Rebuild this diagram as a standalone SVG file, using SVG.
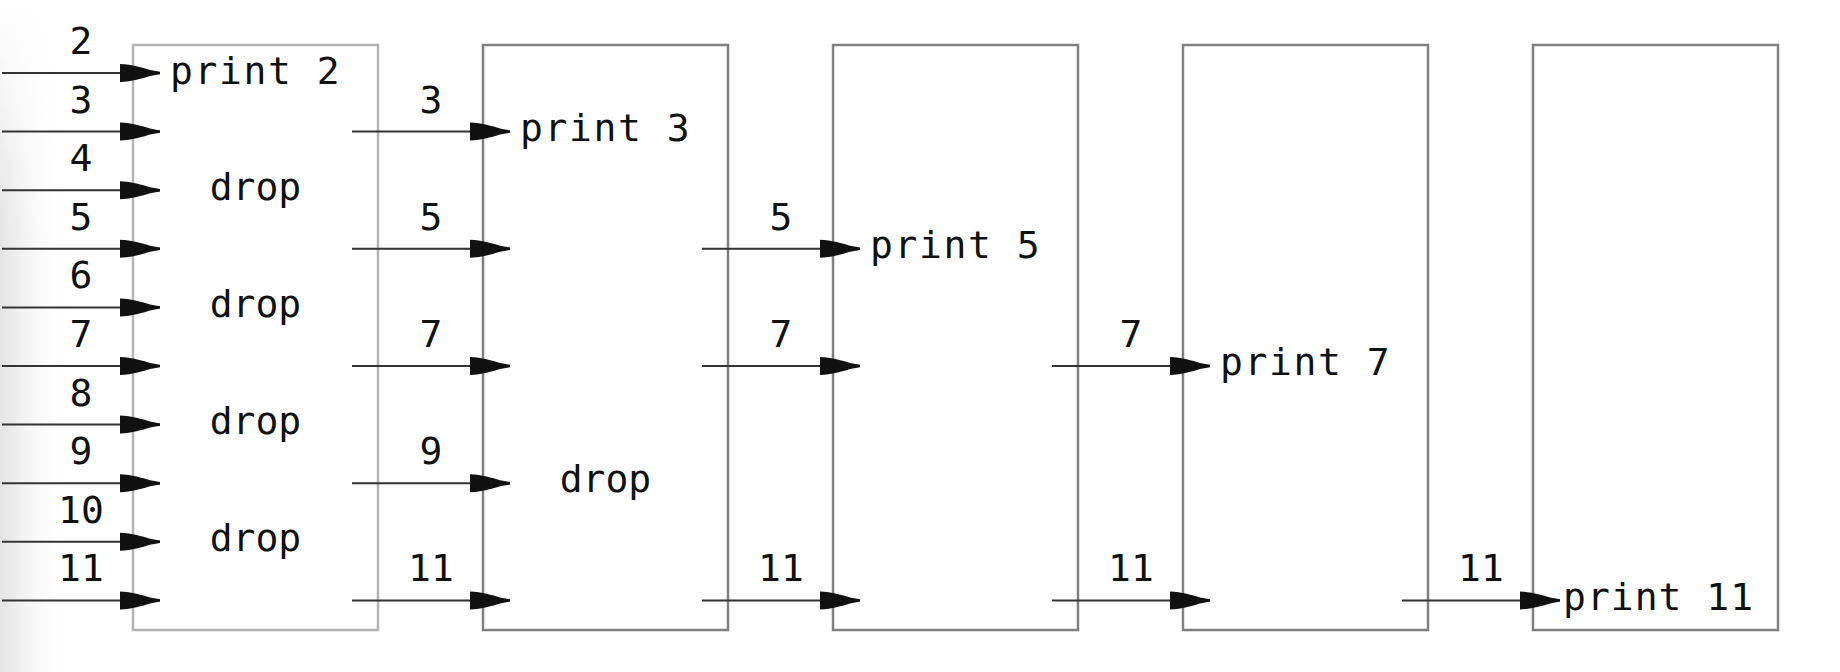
<svg xmlns="http://www.w3.org/2000/svg" width="1840" height="672" viewBox="0 0 1840 672">
  <style>
    .box { fill: none; stroke: #808080; stroke-width: 2.5; }
    .box1 { fill: none; stroke: #b4b4b4; stroke-width: 2.5; }
    .conn { stroke: #333333; stroke-width: 2; fill: none; marker-end: url(#arrow); }
    .lbl { font-family: "DejaVu Sans Mono", "Liberation Mono", monospace; font-size: 38px; fill: #111111; text-anchor: middle; }
    .txt { font-family: "DejaVu Sans Mono", "Liberation Mono", monospace; font-size: 38px; fill: #111111; }
    .prt { letter-spacing: 1.6px; }
    .mid { text-anchor: middle; }
  </style>
  <defs>
    <marker id="arrow" markerUnits="userSpaceOnUse" markerWidth="42" markerHeight="22" viewBox="0 -11 42 22" refX="40" refY="0" orient="auto">
      <path d="M0,-9 L0,9 C12,8.5 22,5.5 30,3 L40,1.2 L40,-1.2 L30,-3 C22,-5.5 12,-8.5 0,-9 Z" fill="#111111"/>
    </marker>
    <linearGradient id="shadeH" x1="0" y1="0" x2="1" y2="0">
      <stop offset="0" stop-color="#e2e2e2" stop-opacity="1"/>
      <stop offset="1" stop-color="#ffffff" stop-opacity="0"/>
    </linearGradient>
    <linearGradient id="fadeV" x1="0" y1="0" x2="0" y2="1">
      <stop offset="0" stop-color="#000000"/>
      <stop offset="0.35" stop-color="#ffffff"/>
      <stop offset="1" stop-color="#ffffff"/>
    </linearGradient>
    <mask id="vmask" maskUnits="userSpaceOnUse" x="0" y="0" width="80" height="672">
      <rect x="0" y="0" width="80" height="672" fill="url(#fadeV)"/>
    </mask>
  </defs>
  <rect x="0" y="0" width="1840" height="672" fill="#ffffff"/>
  <rect x="0" y="0" width="70" height="672" fill="url(#shadeH)" mask="url(#vmask)"/>

  <g id="sieve2">
    <rect class="box1" x="133" y="45" width="245" height="585"/>
    <text class="txt prt" x="170" y="84">print 2</text>
    <text class="txt mid" x="255.5" y="200">drop</text>
    <text class="txt mid" x="255.5" y="317">drop</text>
    <text class="txt mid" x="255.5" y="434">drop</text>
    <text class="txt mid" x="255.5" y="551">drop</text>
  </g>
  <g id="sieve3">
    <rect class="box" x="483" y="45" width="245" height="585"/>
    <text class="txt prt" x="520" y="141">print 3</text>
    <text class="txt mid" x="605.5" y="492">drop</text>
  </g>
  <g id="sieve5">
    <rect class="box" x="833" y="45" width="245" height="585"/>
    <text class="txt prt" x="870" y="258">print 5</text>
  </g>
  <g id="sieve7">
    <rect class="box" x="1183" y="45" width="245" height="585"/>
    <text class="txt prt" x="1220" y="375">print 7</text>
  </g>
  <g id="sieve11">
    <rect class="box" x="1533" y="45" width="245" height="585"/>
    <text class="txt" x="1563" y="610" style="letter-spacing:1px">print 11</text>
  </g>

  <g id="connectors">
    <line class="conn" x1="2" y1="73" x2="160" y2="73"/>
    <line class="conn" x1="2" y1="131.6" x2="160" y2="131.6"/>
    <line class="conn" x1="2" y1="190.2" x2="160" y2="190.2"/>
    <line class="conn" x1="2" y1="248.8" x2="160" y2="248.8"/>
    <line class="conn" x1="2" y1="307.4" x2="160" y2="307.4"/>
    <line class="conn" x1="2" y1="366" x2="160" y2="366"/>
    <line class="conn" x1="2" y1="424.6" x2="160" y2="424.6"/>
    <line class="conn" x1="2" y1="483.2" x2="160" y2="483.2"/>
    <line class="conn" x1="2" y1="541.8" x2="160" y2="541.8"/>
    <line class="conn" x1="2" y1="600.4" x2="160" y2="600.4"/>
    <text class="lbl" x="81" y="54">2</text>
    <text class="lbl" x="81" y="112.6">3</text>
    <text class="lbl" x="81" y="171.2">4</text>
    <text class="lbl" x="81" y="229.8">5</text>
    <text class="lbl" x="81" y="288.4">6</text>
    <text class="lbl" x="81" y="347">7</text>
    <text class="lbl" x="81" y="405.6">8</text>
    <text class="lbl" x="81" y="464.2">9</text>
    <text class="lbl" x="81" y="522.8">10</text>
    <text class="lbl" x="81" y="581.4">11</text>

    <line class="conn" x1="352" y1="131.6" x2="510" y2="131.6"/>
    <line class="conn" x1="352" y1="248.8" x2="510" y2="248.8"/>
    <line class="conn" x1="352" y1="366" x2="510" y2="366"/>
    <line class="conn" x1="352" y1="483.2" x2="510" y2="483.2"/>
    <line class="conn" x1="352" y1="600.4" x2="510" y2="600.4"/>
    <text class="lbl" x="431" y="112.6">3</text>
    <text class="lbl" x="431" y="229.8">5</text>
    <text class="lbl" x="431" y="347">7</text>
    <text class="lbl" x="431" y="464.2">9</text>
    <text class="lbl" x="431" y="581.4">11</text>

    <line class="conn" x1="702" y1="248.8" x2="860" y2="248.8"/>
    <line class="conn" x1="702" y1="366" x2="860" y2="366"/>
    <line class="conn" x1="702" y1="600.4" x2="860" y2="600.4"/>
    <text class="lbl" x="781" y="229.8">5</text>
    <text class="lbl" x="781" y="347">7</text>
    <text class="lbl" x="781" y="581.4">11</text>

    <line class="conn" x1="1052" y1="366" x2="1210" y2="366"/>
    <line class="conn" x1="1052" y1="600.4" x2="1210" y2="600.4"/>
    <text class="lbl" x="1131" y="347">7</text>
    <text class="lbl" x="1131" y="581.4">11</text>

    <line class="conn" x1="1402" y1="600.4" x2="1560" y2="600.4"/>
    <text class="lbl" x="1481" y="581.4">11</text>
  </g>
</svg>
